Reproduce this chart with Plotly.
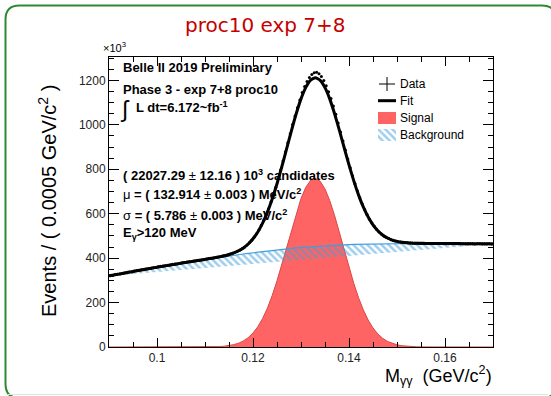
import plotly.graph_objects as go

W, H = 551, 396
L, R, T, B = 109, 493, 57, 347


def px(x):
    return (x - L) / (R - L)


def py(y):
    return (B - y) / (B - T)


# ---------------- data (units of 10^3 events / 0.0005 GeV/c^2) ----------------
x_grid = [round(0.090 + 0.001 * i, 3) for i in range(81)]

signal = [0, 0, 0, 0, 0, 0, 0, 0, 0, 0,
          0, 0, 0, 0, 0, 0, 0, 0, 0.07, 0.15,
          0.3, 0.58, 1.1, 2.0, 3.6, 6.3, 10.6, 17.3, 27.4, 42.1,
          62.9, 91.1, 128.1, 174.9, 231.6, 297.8, 371.7, 450.2, 529.1, 603.8,
          668.6, 718.6, 749.6, 758.9, 745.7, 711.3, 658.4, 591.5, 515.8, 436.5,
          358.5, 285.8, 221.2, 166.1, 121.1, 85.6, 58.8, 39.2, 25.3, 15.9,
          9.7, 5.7, 3.3, 1.8, 1.0, 0.5, 0.3, 0.1, 0, 0,
          0, 0, 0, 0, 0, 0, 0, 0, 0, 0, 0]

background = [320.0, 324.0, 328.0, 332.0, 336.0, 340.0, 343.8, 347.6, 351.4, 355.2,
              359.0, 362.6, 366.2, 369.8, 373.4, 377.0, 380.4, 383.8, 387.2, 390.6,
              394.0, 397.2, 400.4, 403.6, 406.8, 410.0, 412.9, 415.7, 418.5, 421.3,
              424.0, 426.7, 429.3, 431.9, 434.5, 437.0, 439.3, 441.6, 443.8, 445.9,
              448.0, 449.7, 451.3, 452.9, 454.5, 456.0, 457.1, 458.1, 459.1, 460.1,
              461.0, 461.7, 462.3, 462.9, 463.5, 464.0, 464.4, 464.7, 465.0, 465.3,
              465.5, 465.6, 465.7, 465.8, 465.9, 466.0, 465.9, 465.8, 465.7, 465.6,
              465.5, 465.4, 465.3, 465.2, 465.1, 465.0, 464.8, 464.6, 464.4, 464.2, 464.0]

fit = [320.0, 324.0, 328.0, 332.0, 336.0, 340.0, 343.8, 347.6, 351.4, 355.2,
       359.0, 362.6, 366.2, 369.8, 373.4, 377.0, 380.4, 383.8, 387.3, 390.8,
       394.3, 397.8, 401.5, 405.6, 410.4, 416.3, 423.5, 433.0, 445.9, 463.4,
       486.9, 517.8, 557.4, 606.8, 666.1, 734.8, 811.0, 891.8, 972.9, 1049.7,
       1116.6, 1168.3, 1200.9, 1211.8, 1200.2, 1167.3, 1115.5, 1049.6, 974.9, 896.6,
       819.5, 747.5, 683.5, 629.0, 584.6, 549.6, 523.2, 503.9, 490.3, 481.2,
       475.2, 471.3, 469.0, 467.6, 466.9, 466.5, 466.2, 465.9, 465.7, 465.6,
       465.5, 465.4, 465.3, 465.2, 465.1, 465.0, 464.8, 464.6, 464.4, 464.2, 464.0]

bin_centers = [round(0.09025 + 0.0005 * k, 5) for k in range(160)]
data = [321, 322, 326, 327, 328, 331, 333, 334, 337, 338,
        342, 343, 345, 348, 348, 351, 353, 354, 357, 358,
        361, 363, 364, 366, 368, 369, 372, 373, 374, 377,
        379, 380, 383, 384, 385, 387, 389, 390, 392, 393,
        396, 398, 399, 401, 403, 405, 407, 409, 411, 414,
        419, 422, 426, 431, 436, 443, 450, 459, 469, 480,
        495, 510, 528, 548, 570, 595, 622, 652, 684, 719,
        757, 796, 837, 878, 919, 960, 1001, 1040, 1077, 1112,
        1145, 1172, 1195, 1213, 1226, 1234, 1236, 1230, 1217, 1199,
        1176, 1149, 1118, 1084, 1047, 1008, 968, 927, 886, 846,
        807, 770, 735, 702, 672, 644, 619, 596, 575, 558,
        543, 530, 518, 509, 500, 494, 488, 483, 480, 477,
        474, 472, 471, 470, 469, 468, 467, 467, 467, 466,
        466, 466, 466, 466, 466, 466, 466, 466, 466, 465,
        465, 465, 466, 465, 465, 465, 465, 465, 465, 465,
        465, 465, 464, 465, 465, 464, 464, 464, 465, 464]

x_range = [0.09, 0.17]
y_range = [0, 1305]

RED = "#ff6464"
BLUE = "#3f9ddc"
GREEN = "#2f8a2f"
FONT = "Liberation Sans"

fig = go.Figure()

fig.add_trace(go.Scatter(x=x_grid, y=signal, mode="lines", fill="tozeroy",
                         fillcolor=RED, line=dict(color="#d84848", width=1),
                         showlegend=False, hoverinfo="skip"))
fig.add_trace(go.Scatter(x=x_grid, y=background, mode="lines", fill="toself",
                         fillcolor="rgba(0,0,0,0)",
                         fillpattern=dict(shape="\\", fgcolor=BLUE, bgcolor="rgba(0,0,0,0)",
                                          size=5, solidity=0.5),
                         line=dict(color=BLUE, width=1.2), showlegend=False, hoverinfo="skip"))
fig.add_trace(go.Scatter(x=x_grid, y=fit, mode="lines",
                         line=dict(color="black", width=3, shape="spline", smoothing=0.5),
                         showlegend=False))
fig.add_trace(go.Scatter(x=bin_centers, y=data, mode="markers",
                         marker=dict(size=3, color="black"), showlegend=False))

# hatched legend box on a tiny hidden axis pair
fig.add_trace(go.Scatter(x=[0, 1, 1, 0, 0], y=[0, 0, 1, 1, 0], xaxis="x2", yaxis="y2",
                         mode="lines", fill="toself", fillcolor="rgba(0,0,0,0)",
                         fillpattern=dict(shape="\\", fgcolor=BLUE, bgcolor="rgba(0,0,0,0)",
                                          size=5, solidity=0.5),
                         line=dict(width=0), showlegend=False, hoverinfo="skip"))

axis_common = dict(showline=True, linecolor="black", linewidth=1, mirror="ticks",
                   ticks="inside", tickcolor="black", tickwidth=1, showgrid=False,
                   zeroline=False, tickfont=dict(family=FONT, size=12, color="#222"))

fig.update_layout(
    width=W, height=H,
    margin=dict(l=L, r=W - R, t=T, b=H - B),
    paper_bgcolor="white", plot_bgcolor="white",
    showlegend=False,
    xaxis=dict(range=x_range, dtick=0.02, tick0=0.1, ticklen=9,
               minor=dict(ticks="inside", ticklen=5, dtick=0.005, tickcolor="black"),
               **axis_common),
    yaxis=dict(range=y_range, dtick=200, tick0=0, ticklen=10,
               minor=dict(ticks="inside", ticklen=5, dtick=50, tickcolor="black"),
               **axis_common),
    xaxis2=dict(domain=[px(378), px(396)], range=[0, 1], anchor="y2", visible=False,
                fixedrange=True),
    yaxis2=dict(domain=[py(141), py(129)], range=[0, 1], anchor="x2", visible=False,
                fixedrange=True),
)

shapes = []
# rounded green frame
x0, y0, x1, y1, r = 5.5, 5.5, 556, 398, 14
pts = [("M", [(x0 + r, y0)]), ("L", [(x1 - r, y0)]), ("Q", [(x1, y0), (x1, y0 + r)]),
       ("L", [(x1, y1 - r)]), ("Q", [(x1, y1), (x1 - r, y1)]), ("L", [(x0 + r, y1)]),
       ("Q", [(x0, y1), (x0, y1 - r)]), ("L", [(x0, y0 + r)]), ("Q", [(x0, y0), (x0 + r, y0)])]
path = " ".join(cmd + " " + " ".join(f"{px(a):.5f},{py(b):.5f}" for a, b in p) for cmd, p in pts) + " Z"
shapes.append(dict(type="path", xref="paper", yref="paper", path=path,
                   line=dict(color=GREEN, width=2), fillcolor="rgba(0,0,0,0)", layer="below"))
shapes.append(dict(type="line", xref="paper", yref="paper", x0=px(8), x1=px(548),
                   y0=py(394.5), y1=py(394.5), line=dict(color="#e2e2e2", width=1),
                   layer="below"))

# legend symbols
shapes.append(dict(type="line", xref="paper", yref="paper", x0=px(379), x1=px(395),
                   y0=py(84), y1=py(84), line=dict(color="black", width=1)))
shapes.append(dict(type="line", xref="paper", yref="paper", x0=px(387), x1=px(387),
                   y0=py(77), y1=py(91), line=dict(color="black", width=1)))
shapes.append(dict(type="line", xref="paper", yref="paper", x0=px(378), x1=px(396),
                   y0=py(100.7), y1=py(100.7), line=dict(color="black", width=3)))
shapes.append(dict(type="rect", xref="paper", yref="paper", x0=px(378), x1=px(396),
                   y0=py(124), y1=py(112), fillcolor=RED, line=dict(width=0)))
fig.update_layout(shapes=shapes)

ann = []


def text(s, x, y, size=13, xanchor="left", color="black", family=FONT, angle=0, yanchor="middle"):
    ann.append(dict(text=s, x=px(x), y=py(y), xref="paper", yref="paper", showarrow=False,
                    xanchor=xanchor, yanchor=yanchor, textangle=angle,
                    font=dict(family=family, size=size, color=color)))


text("proc10 exp 7+8", 265.5, 25, size=20, xanchor="center", color="#c40000", family="DejaVu Sans")
text("×10<sup>3</sup>", 101, 47, size=11)
text("<b>Belle II 2019 Preliminary</b>", 121, 67.5)
text("<b>Phase 3 - exp 7+8 proc10</b>", 121, 89)
text("∫", 118, 109, size=23)
text("<b>L dt=6.172~fb<sup>-1</sup></b>", 134, 107)
text("<b>( 22027.29 </b>±<b> 12.16 ) 10<sup>3</sup> candidates</b>", 121, 175)
text("μ<b> = ( 132.914 </b>±<b> 0.003 ) MeV/c<sup>2</sup></b>", 121, 193.5)
text("σ<b> = ( 5.786 </b>±<b> 0.003 ) MeV/c<sup>2</sup></b>", 121, 215)
text("<b>E<sub>γ</sub>&gt;120 MeV</b>", 121, 233)

text("Data", 398, 84, size=12)
text("Fit", 398, 100.7, size=12)
text("Signal", 398, 118, size=12)
text("Background", 398, 135, size=12)

text("Events / ( 0.0005 GeV/c<sup>2</sup> )", 47, 201, size=20, xanchor="center", angle=-90)
text("M<sub>γγ</sub>  (GeV/c<sup>2</sup>)", 494, 375, size=18, xanchor="right")

fig.update_layout(annotations=ann)

fig.write_html("out.html", config={"displayModeBar": False, "staticPlot": True},
               post_script="document.body.style.margin='0px';")
